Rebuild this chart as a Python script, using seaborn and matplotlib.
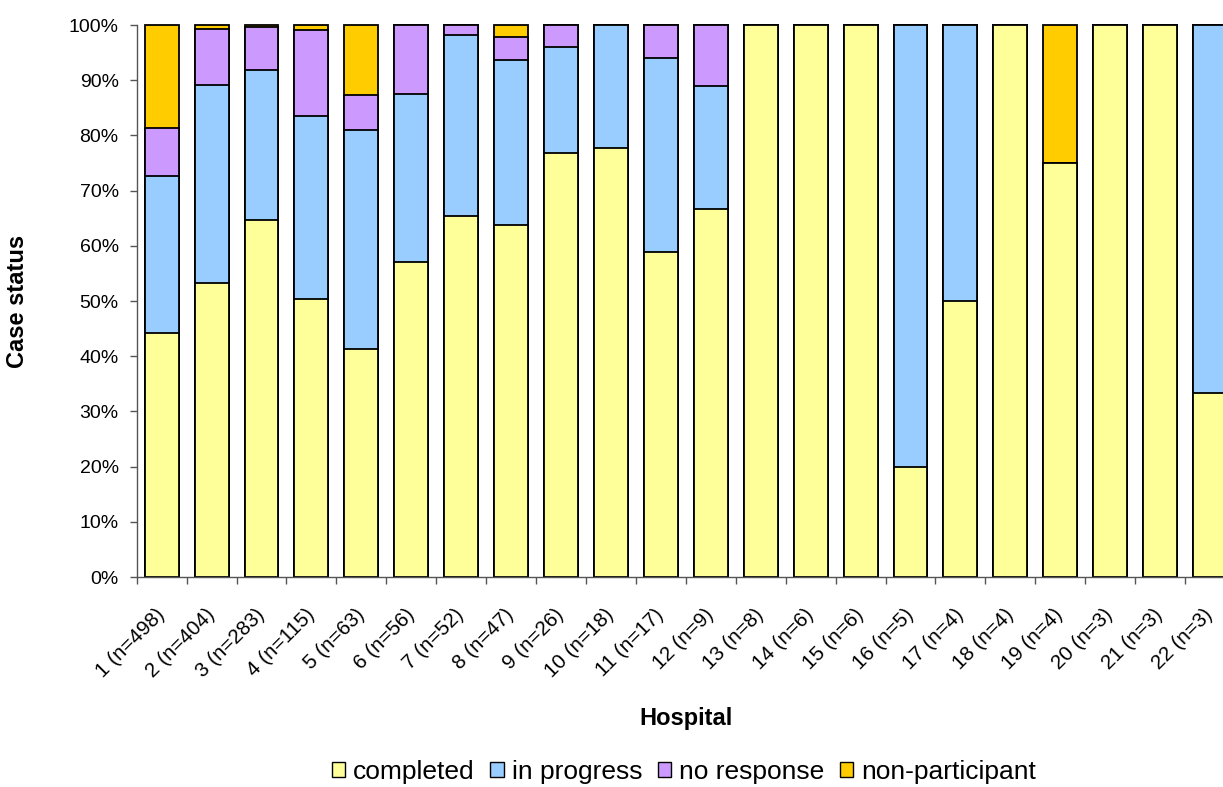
import numpy as np
import pandas as pd
import matplotlib
matplotlib.use("Agg")
import matplotlib.pyplot as plt
from matplotlib.patches import Patch
from matplotlib.transforms import ScaledTranslation
import seaborn as sns

# Hospitals and their case counts
hospital_ids = list(range(1, 23))
case_counts = [498, 404, 283, 115, 63, 56, 52, 47, 26, 18, 17, 9, 8, 6, 6, 5, 4, 4, 4, 3, 3, 3]

# Share of cases (%) in each status, per hospital
completed = [44.2, 53.2, 64.7, 50.4, 41.3, 57.1, 65.4, 63.8, 76.9, 77.8, 58.8, 66.7,
             100, 100, 100, 20, 50, 100, 75, 100, 100, 33.3]
in_progress = [28.5, 35.9, 27.2, 33.1, 39.7, 30.4, 32.7, 29.8, 19.2, 22.2, 35.3, 22.2,
               0, 0, 0, 80, 50, 0, 0, 0, 0, 66.7]
no_response = [8.6, 10.2, 7.7, 15.6, 6.3, 12.5, 1.9, 4.3, 3.9, 0, 5.9, 11.1,
               0, 0, 0, 0, 0, 0, 0, 0, 0, 0]
non_participant = [18.7, 0.7, 0.4, 0.9, 12.7, 0, 0, 2.1, 0, 0, 0, 0,
                   0, 0, 0, 0, 0, 0, 25, 0, 0, 0]

statuses = ["completed", "in progress", "no response", "non-participant"]
colors = ["#FFFF99", "#99CCFF", "#CC99FF", "#FFCC00"]

labels = [f"{h} (n={n})" for h, n in zip(hospital_ids, case_counts)]
shares = np.array([completed, in_progress, no_response, non_participant])
tops = np.cumsum(shares, axis=0)

df = pd.DataFrame({"hospital": labels})
for name, col in zip(statuses, tops):
    df[name] = col

sns.set_style("white")
plt.rcParams["font.family"] = ["Liberation Sans", "DejaVu Sans"]
plt.rcParams["text.color"] = "black"
plt.rcParams["axes.labelcolor"] = "black"
plt.rcParams["xtick.color"] = "black"
plt.rcParams["ytick.color"] = "black"

W, H = 1223, 787
fig = plt.figure(figsize=(W / 100, H / 100), dpi=100)
left_px, right_px, top_px, bottom_px = 136.7, 1235, 25, 577
ax = fig.add_axes([left_px / W, 1 - bottom_px / H,
                   (right_px - left_px) / W, (bottom_px - top_px) / H])

# Stacked bars: draw cumulative totals from the top segment down
for name, color in reversed(list(zip(statuses, colors))):
    sns.barplot(data=df, x="hospital", y=name, order=labels, color=color,
                saturation=1, width=0.68, edgecolor="black", linewidth=1.3,
                errorbar=None, ax=ax, clip_on=False)

ax.set_xlim(-0.5, len(labels) - 0.5)
ax.set_ylim(0, 100)
ax.set_yticks(np.arange(0, 101, 10))
ax.yaxis.set_major_formatter(matplotlib.ticker.FuncFormatter(lambda v, _: f"{v:.0f}%"))
ax.tick_params(axis="y", direction="out", length=5, width=1, color="#555555",
               pad=8, labelsize=14, left=True)

ax.set_xticks(range(len(labels)))
ax.set_xticklabels(labels, rotation=45, ha="right", va="center",
                   rotation_mode="anchor", fontsize=14.8)
shift = ScaledTranslation(-5 / 100, 0, fig.dpi_scale_trans)
for lab in ax.get_xticklabels():
    lab.set_transform(lab.get_transform() + shift)
ax.set_xticks(np.arange(-0.5, len(labels), 1), minor=True)
ax.tick_params(axis="x", which="major", length=0, pad=25)
ax.tick_params(axis="x", which="minor", direction="out", length=5, width=1,
               color="#555555", bottom=True)

for side in ["top", "right"]:
    ax.spines[side].set_visible(False)
for side in ["left", "bottom"]:
    ax.spines[side].set_color("#555555")
    ax.spines[side].set_linewidth(1)

ax.set_xlabel("Hospital", fontsize=17, fontweight="bold", labelpad=0)
ax.xaxis.set_label_coords(0.5, -(707 - bottom_px) / (bottom_px - top_px))
ax.set_ylabel("Case status", fontsize=17, fontweight="bold")
ax.yaxis.set_label_coords(-(left_px - 29) / (right_px - left_px), 0.5)

handles = [Patch(facecolor=c, edgecolor="black", linewidth=1.0) for c in colors]
fig.legend(handles, statuses, loc="center", bbox_to_anchor=(684 / W, 1 - 772 / H),
           ncol=4, frameon=False, fontsize=19, handlelength=0.5, handleheight=0.5,
           handletextpad=0.3, columnspacing=0.6, borderaxespad=0)

fig.savefig("out.png", dpi=100)
